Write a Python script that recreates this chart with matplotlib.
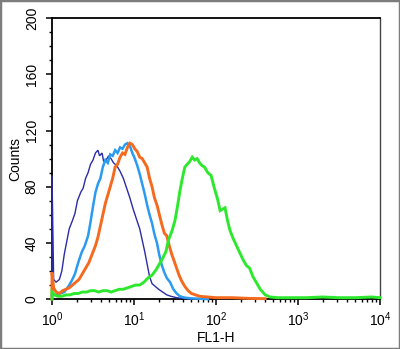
import numpy as np
import matplotlib
matplotlib.use("Agg")
import matplotlib.pyplot as plt
from matplotlib.patches import Rectangle
from matplotlib.ticker import LogLocator, MultipleLocator, NullFormatter

plt.rcParams["font.family"] = ["Liberation Sans Narrow", "Liberation Sans", "DejaVu Sans"]
plt.rcParams["mathtext.fontset"] = "custom"
plt.rcParams["mathtext.rm"] = "Liberation Sans Narrow"

# ---------------------------------------------------------------------------
# Data: histogram traces, x given as log10(FL1-H), y as counts
# ---------------------------------------------------------------------------
isotype_logx = [0, 0, 0.02, 0.05, 0.09, 0.12, 0.15, 0.18, 0.21, 0.25, 0.28, 0.31,
                0.35, 0.38, 0.41, 0.44, 0.47, 0.50, 0.53, 0.56, 0.58, 0.61, 0.63,
                0.66, 0.69, 0.72, 0.75, 0.79, 0.83, 0.87, 0.91, 0.95, 0.99, 1.03,
                1.07, 1.10, 1.13, 1.16, 1.19, 1.22, 1.26, 1.30, 1.35, 1.40, 1.45,
                1.52, 1.60, 1.70]
isotype_counts = [0, 88, 14, 12, 14, 20, 32, 41, 50, 56, 61, 70,
                  76, 79, 86, 90, 96, 99, 104, 106, 102, 104, 98,
                  99, 102, 100, 97, 95, 91, 86, 79, 72, 64, 57,
                  50, 42, 34, 25, 16, 11, 9, 7, 5, 3, 2,
                  1, 0.5, 0]

control_logx = [0, 0.05, 0.10, 0.15, 0.20, 0.24, 0.28, 0.32, 0.36, 0.40, 0.44,
                0.47, 0.50, 0.53, 0.56, 0.59, 0.62, 0.65, 0.68, 0.71, 0.74, 0.77,
                0.80, 0.83, 0.86, 0.89, 0.92, 0.95, 0.98, 1.01, 1.04, 1.07, 1.10,
                1.13, 1.16, 1.19, 1.22, 1.25, 1.28, 1.31, 1.34, 1.37, 1.40, 1.44,
                1.48, 1.52, 1.56, 1.62, 1.70, 1.90]
control_counts = [3, 3, 4, 5, 9, 13, 18, 26, 33, 38, 45,
                  55, 66, 76, 82, 86, 94, 99, 97, 103, 102, 106,
                  104, 108, 107, 110, 111, 109, 104, 100, 95, 89, 82,
                  75, 67, 60, 54, 46, 40, 31, 24, 19, 15, 12,
                  7, 4, 2, 1, 0.5, 0]

unstained_logx = [0, 0, 0.02, 0.05, 0.09, 0.13, 0.17, 0.21, 0.25, 0.29, 0.33,
                  0.37, 0.41, 0.45, 0.49, 0.53, 0.56, 0.59, 0.62, 0.65, 0.68,
                  0.71, 0.74, 0.77, 0.80, 0.83, 0.86, 0.89, 0.92, 0.95, 0.98,
                  1.01, 1.04, 1.07, 1.10, 1.13, 1.16, 1.19, 1.22, 1.25, 1.28,
                  1.31, 1.34, 1.37, 1.40, 1.43, 1.46, 1.49, 1.52, 1.55, 1.58,
                  1.62, 1.66, 1.70, 1.75, 1.80, 1.90, 2.00, 2.20, 2.40, 2.60]
unstained_counts = [0, 19, 8, 5, 4, 6, 7, 8, 10, 12, 14,
                    18, 22, 26, 32, 38, 44, 52, 60, 68, 74,
                    80, 86, 94, 96, 101, 104, 103, 108, 111, 110,
                    107, 105, 101, 100, 97, 94, 86, 80, 72, 67,
                    60, 53, 47, 45, 38, 32, 27, 22, 17, 13,
                    9, 6, 4, 3, 2, 1.5, 1, 1, 0.5, 0.3]

sample_logx = [0, 0, 0.03, 0.07, 0.12, 0.17, 0.22, 0.27, 0.32, 0.37, 0.42,
               0.47, 0.52, 0.57, 0.62, 0.67, 0.72, 0.77, 0.82, 0.87, 0.92,
               0.97, 1.02, 1.07, 1.12, 1.17, 1.22, 1.27, 1.31, 1.35, 1.39,
               1.42, 1.46, 1.50, 1.53, 1.56, 1.59, 1.62, 1.65, 1.68, 1.71,
               1.74, 1.77, 1.80, 1.83, 1.86, 1.90, 1.94, 1.98, 2.02, 2.05,
               2.08, 2.11, 2.14, 2.17, 2.21, 2.25, 2.29, 2.33, 2.37, 2.41,
               2.45, 2.49, 2.54, 2.60, 2.66, 2.75, 2.90, 3.10, 3.30, 3.50,
               3.70, 3.90, 4.00]
sample_counts = [0, 5, 3, 2, 2, 3, 3, 4, 4, 5, 5,
                 6, 6, 5, 6, 6, 5, 6, 7, 7, 8,
                 9, 10, 10, 12, 15, 17, 21, 25, 29, 34,
                 42, 48, 56, 66, 77, 86, 94, 96, 98, 101,
                 99, 100, 97, 95, 94, 90, 88, 79, 71, 63,
                 64, 65, 56, 49, 43, 38, 33, 28, 24, 22,
                 16, 12, 7, 3, 1.5, 1, 1, 1, 1.5, 1,
                 1, 1.5, 1]

traces = [
    (isotype_logx, isotype_counts, "#2b2ba6", 1.0),
    (control_logx, control_counts, "#2a9bf0", 1.8),
    (unstained_logx, unstained_counts, "#f46a1e", 2.1),
    (sample_logx, sample_counts, "#2ee82e", 2.1),
]

y_ticks = [0, 40, 80, 120, 160, 200]


def main():
    fig = plt.figure(figsize=(4.0, 3.49), dpi=100)
    ax = fig.add_axes([0.13, 0.143, 0.82, 0.805])

    for logx, counts, color, lw in traces:
        ax.plot(10 ** np.array(logx), counts, color=color, lw=lw,
                solid_joinstyle="miter", clip_on=False, zorder=3)

    ax.set_xscale("log")
    ax.set_xlim(1, 1e4)
    ax.set_ylim(0, 200)

    ax.set_yticks(y_ticks)
    ax.yaxis.set_minor_locator(MultipleLocator(10))
    ax.xaxis.set_major_locator(LogLocator(base=10, numticks=10))
    ax.xaxis.set_minor_locator(LogLocator(base=10, subs=np.arange(2, 10), numticks=10))
    ax.xaxis.set_minor_formatter(NullFormatter())

    ax.tick_params(which="major", direction="out", length=4.5, width=1.1,
                   labelsize=10, color="black")
    ax.tick_params(which="minor", direction="out", length=2.5, width=1.0)
    ax.tick_params(axis="y", pad=5)
    ax.tick_params(axis="x", pad=4)
    for lbl in ax.get_yticklabels():
        lbl.set_rotation(90)
        lbl.set_va("center")

    for side in ["left", "bottom", "top"]:
        ax.spines[side].set_linewidth(1.3)
        ax.spines[side].set_color("black")
    ax.spines["right"].set_linewidth(1.0)
    ax.spines["right"].set_color("#444444")

    ax.set_ylabel("Counts", fontsize=10, labelpad=2)
    ax.set_xlabel("FL1-H", fontsize=10, labelpad=1)

    fig.patches.append(Rectangle((0, 0), 1, 1, transform=fig.transFigure,
                                 fill=False, edgecolor="#7d7d7d", linewidth=2.5))

    fig.savefig("out.png", dpi=100)
    plt.close(fig)


if __name__ == "__main__":
    main()
